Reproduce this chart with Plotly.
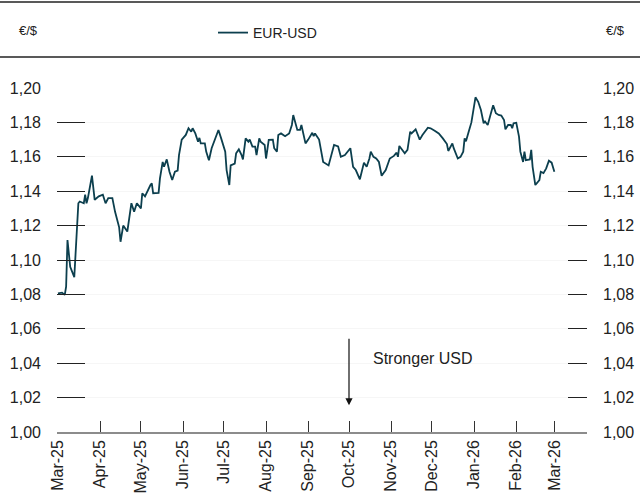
import plotly.graph_objects as go

dates = [
    "2025-03-01", "2025-03-04", "2025-03-06", "2025-03-07", "2025-03-08", "2025-03-10", "2025-03-13",
    "2025-03-16", "2025-03-17", "2025-03-20", "2025-03-21", "2025-03-22", "2025-03-23", "2025-03-26",
    "2025-03-28", "2025-03-31", "2025-04-03", "2025-04-05", "2025-04-07", "2025-04-10", "2025-04-12",
    "2025-04-15", "2025-04-16", "2025-04-18", "2025-04-21", "2025-04-24", "2025-04-26", "2025-04-28",
    "2025-05-01", "2025-05-02", "2025-05-04", "2025-05-05", "2025-05-08", "2025-05-09", "2025-05-10",
    "2025-05-14", "2025-05-15", "2025-05-17", "2025-05-18", "2025-05-20", "2025-05-22", "2025-05-24",
    "2025-05-26", "2025-05-28", "2025-05-29", "2025-05-31", "2025-06-02", "2025-06-03", "2025-06-05",
    "2025-06-07", "2025-06-08", "2025-06-10", "2025-06-12", "2025-06-13", "2025-06-14", "2025-06-17",
    "2025-06-18", "2025-06-20", "2025-06-22", "2025-06-25", "2025-06-27", "2025-06-29", "2025-07-02",
    "2025-07-03", "2025-07-05", "2025-07-06", "2025-07-09", "2025-07-10", "2025-07-12", "2025-07-14",
    "2025-07-15", "2025-07-17", "2025-07-19", "2025-07-20", "2025-07-22", "2025-07-24", "2025-07-25",
    "2025-07-27", "2025-07-28", "2025-07-31", "2025-08-01", "2025-08-03", "2025-08-06", "2025-08-07",
    "2025-08-09", "2025-08-10", "2025-08-12", "2025-08-15", "2025-08-18", "2025-08-20", "2025-08-21",
    "2025-08-24", "2025-08-26", "2025-08-27", "2025-08-30", "2025-09-01", "2025-09-04", "2025-09-05",
    "2025-09-06", "2025-09-09", "2025-09-12", "2025-09-16", "2025-09-20", "2025-09-23", "2025-09-25",
    "2025-09-28", "2025-10-02", "2025-10-04", "2025-10-06", "2025-10-09", "2025-10-12", "2025-10-14",
    "2025-10-16", "2025-10-17", "2025-10-19", "2025-10-21", "2025-10-23", "2025-10-25", "2025-10-28",
    "2025-10-31", "2025-11-03", "2025-11-05", "2025-11-06", "2025-11-07", "2025-11-09", "2025-11-11",
    "2025-11-13", "2025-11-15", "2025-11-16", "2025-11-19", "2025-11-22", "2025-11-24", "2025-11-28",
    "2025-11-30", "2025-12-03", "2025-12-06", "2025-12-09", "2025-12-12", "2025-12-13", "2025-12-16",
    "2025-12-17", "2025-12-20", "2025-12-22", "2025-12-24", "2025-12-25", "2025-12-26", "2025-12-28",
    "2025-12-30", "2026-01-02", "2026-01-04", "2026-01-06", "2026-01-08", "2026-01-09", "2026-01-11",
    "2026-01-13", "2026-01-15", "2026-01-17", "2026-01-19", "2026-01-21", "2026-01-23", "2026-01-24",
    "2026-01-26", "2026-01-28", "2026-01-29", "2026-01-30", "2026-02-01", "2026-02-03", "2026-02-04",
    "2026-02-06", "2026-02-07", "2026-02-08", "2026-02-11", "2026-02-12", "2026-02-13", "2026-02-15",
    "2026-02-18", "2026-02-19", "2026-02-21", "2026-02-23", "2026-02-25", "2026-02-27", "2026-03-01",
]

eur_usd = [
    1.0806, 1.0810, 1.0797, 1.0845, 1.1116, 1.0960, 1.0900,
    1.1330, 1.1340, 1.1330, 1.1380, 1.1330, 1.1360, 1.1490,
    1.1350, 1.1370, 1.1380, 1.1330, 1.1360, 1.1360, 1.1280,
    1.1190, 1.1106, 1.1200, 1.1165, 1.1330, 1.1280, 1.1330,
    1.1300, 1.1388, 1.1370, 1.1388, 1.1436, 1.1446, 1.1388,
    1.1390, 1.1475, 1.1570, 1.1542, 1.1585, 1.1513, 1.1465,
    1.1513, 1.1520, 1.1610, 1.1700, 1.1717, 1.1727, 1.1766,
    1.1746, 1.1766, 1.1736, 1.1688, 1.1710, 1.1678, 1.1678,
    1.1630, 1.1580, 1.1650, 1.1707, 1.1756, 1.1707, 1.1630,
    1.1523, 1.1436, 1.1550, 1.1560, 1.1620, 1.1643, 1.1610,
    1.1585, 1.1707, 1.1688, 1.1700, 1.1659, 1.1659, 1.1610,
    1.1707, 1.1688, 1.1669, 1.1590, 1.1698, 1.1700, 1.1650,
    1.1630, 1.1727, 1.1736, 1.1720, 1.1736, 1.1785, 1.1843,
    1.1756, 1.1756, 1.1785, 1.1678, 1.1700, 1.1740, 1.1720,
    1.1736, 1.1700, 1.1570, 1.1550, 1.1669, 1.1660, 1.1600,
    1.1610, 1.1650, 1.1542, 1.1523, 1.1469, 1.1566, 1.1542,
    1.1590, 1.1630, 1.1600, 1.1590, 1.1570, 1.1490, 1.1523,
    1.1590, 1.1605, 1.1624, 1.1600, 1.1663, 1.1640, 1.1620,
    1.1640, 1.1746, 1.1736, 1.1760, 1.1700, 1.1727, 1.1769,
    1.1766, 1.1752, 1.1736, 1.1707, 1.1674, 1.1634, 1.1678,
    1.1650, 1.1590, 1.1600, 1.1630, 1.1707, 1.1690, 1.1746,
    1.1800, 1.1946, 1.1920, 1.1872, 1.1795, 1.1805, 1.1785,
    1.1843, 1.1900, 1.1853, 1.1843, 1.1840, 1.1814, 1.1760,
    1.1785, 1.1785, 1.1766, 1.1795, 1.1798, 1.1717, 1.1630,
    1.1570, 1.1630, 1.1580, 1.1585, 1.1640, 1.1542, 1.1436,
    1.1465, 1.1513, 1.1505, 1.1533, 1.1577, 1.1566, 1.1513,
]

month_ticks = [
    "2025-03-01", "2025-04-01", "2025-05-01", "2025-06-01", "2025-07-01", "2025-08-01", "2025-09-01",
    "2025-10-01", "2025-11-01", "2025-12-01", "2026-01-01", "2026-02-01", "2026-03-01",
]
month_labels = [
    "Mar-25", "Apr-25", "May-25", "Jun-25", "Jul-25", "Aug-25", "Sep-25",
    "Oct-25", "Nov-25", "Dec-25", "Jan-26", "Feb-26", "Mar-26",
]
y_ticks = [1.00, 1.02, 1.04, 1.06, 1.08, 1.10, 1.12, 1.14, 1.16, 1.18, 1.20]

LINE = "#0c3f4e"
FONT = "Liberation Sans, Arial, sans-serif"
W, H = 640, 504
ML, MR, MT, MB = 57, 53, 88, 72
PW = W - ML - MR
PH = H - MT - MB

fig = go.Figure()
fig.add_trace(go.Scatter(x=dates, y=eur_usd, mode="lines", name="EUR-USD",
                         line=dict(color=LINE, width=1.8), yaxis="y"))
fig.add_trace(go.Scatter(x=dates, y=eur_usd, mode="lines", showlegend=False,
                         line=dict(color="rgba(0,0,0,0)", width=0), hoverinfo="skip", yaxis="y2"))

yax = dict(range=[1.0, 1.2], tickvals=y_ticks, tickformat=".2f", ticks="inside",
           tickcolor="#222222", tickwidth=1, showline=False, showgrid=True,
           gridcolor="#f6f6f6", gridwidth=1, zeroline=False, automargin=False,
           tickfont=dict(family=FONT, size=16, color="#222222"), ticklabelstandoff=15)

fig.update_layout(
    width=W, height=H,
    margin=dict(l=ML, r=MR, t=MT, b=MB, autoexpand=False),
    paper_bgcolor="white", plot_bgcolor="white",
    separators=", ",
    font=dict(family=FONT, color="#222222"),
    xaxis=dict(type="date", range=["2025-02-28 07:00", "2026-03-25"],
               tickvals=month_ticks, ticktext=month_labels, tickangle=-90,
               ticks="inside", ticklen=11, tickcolor="#333333", tickwidth=1,
               showline=True, linecolor="#8c8c8c", linewidth=1.5, showgrid=False,
               zeroline=False, automargin=False,
               tickfont=dict(family=FONT, size=16, color="#222222")),
    yaxis=dict(**yax, ticklen=28, side="left"),
    yaxis2=dict(**yax, ticklen=19, side="right", overlaying="y"),
    showlegend=True,
    legend=dict(orientation="h", x=(213 - ML) / PW, xanchor="left",
                y=(H - MB - 33) / PH, yanchor="middle",
                font=dict(family=FONT, size=14, color="#222222"),
                bgcolor="rgba(0,0,0,0)"),
    shapes=[
        dict(type="line", xref="paper", yref="paper",
             x0=-ML / PW, x1=(W - ML) / PW, y0=(H - MB - 2) / PH, y1=(H - MB - 2) / PH,
             line=dict(color="#222222", width=1.5)),
        dict(type="line", xref="paper", yref="paper",
             x0=-ML / PW, x1=(W - ML) / PW, y0=(H - MB - 57) / PH, y1=(H - MB - 57) / PH,
             line=dict(color="#222222", width=1.5)),
    ],
    annotations=[
        dict(text="€/$", xref="paper", yref="paper", x=(28 - ML) / PW, y=(H - MB - 31) / PH,
             xanchor="center", yanchor="middle",
             showarrow=False, font=dict(family=FONT, size=13, color="#222222")),
        dict(text="€/$", xref="paper", yref="paper", x=(615 - ML) / PW, y=(H - MB - 31) / PH,
             xanchor="center", yanchor="middle",
             showarrow=False, font=dict(family=FONT, size=13, color="#222222")),
        dict(text="", x="2025-10-01", y=1.0155, xref="x", yref="y",
             showarrow=True, arrowhead=2, arrowsize=1.2, arrowwidth=1.2, arrowcolor="#111111",
             ax=0, ay=-68),
        dict(text="Stronger USD", xref="paper", yref="paper", x=(371 - ML) / PW,
             y=(H - MB - 358) / PH, xanchor="left", yanchor="middle", showarrow=False,
             font=dict(family=FONT, size=16, color="#222222")),
    ],
)

fig.write_html("out.html", config={"displayModeBar": False},
               post_script="document.body.style.margin='0';")
